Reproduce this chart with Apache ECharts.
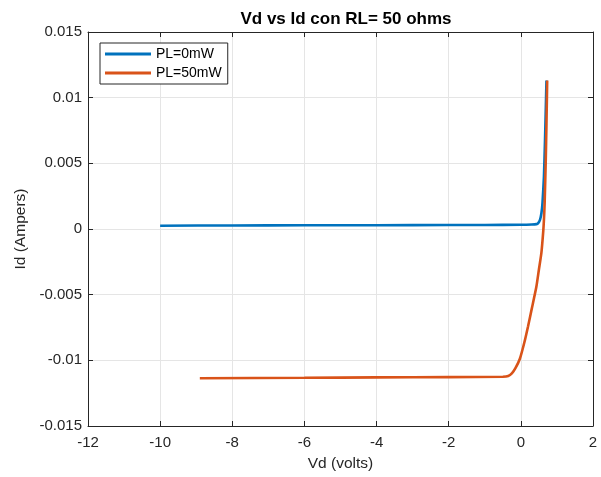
<!DOCTYPE html>
<html>
<head>
<meta charset="utf-8">
<script src="https://cdn.jsdelivr.net/npm/echarts@6/dist/echarts.min.js"></script>
<style>html,body{margin:0;padding:0;background:#fff;}#c{width:601px;height:477px;}</style>
</head>
<body>
<div id="c"></div>
<script>
var titleText = "Vd vs Id con RL= 50 ohms";
var xName = "Vd (volts)";
var yName = "Id (Ampers)";
var seriesNames = ["PL=0mW", "PL=50mW"];

var blueX = [-10, -8, -6, -4, -2, -1, 0, 0.3, 0.43, 0.48, 0.53, 0.57, 0.6, 0.64, 0.67, 0.69, 0.71];
var blueY = [0.00025, 0.00027, 0.00028, 0.00029, 0.0003, 0.00031, 0.00032, 0.00034, 0.00037, 0.00045, 0.0007, 0.0012, 0.002, 0.004, 0.0068, 0.009, 0.0113];

var orangeX = [-8.9, -6, -4, -2, -0.5, -0.35, -0.25, -0.15, -0.03, 0.1, 0.2, 0.3, 0.43, 0.5, 0.57, 0.62, 0.64, 0.66, 0.69, 0.71, 0.73];
var orangeY = [-0.01136, -0.01133, -0.0113, -0.01128, -0.01125, -0.0112, -0.0110, -0.0106, -0.0099, -0.0086, -0.0074, -0.0061, -0.0044, -0.0031, -0.0018, -0.0002, 0.0007, 0.002, 0.0052, 0.008, 0.0113];

function pairs(xs, ys){ return xs.map(function(x,i){ return [x, ys[i]]; }); }

var font = "'Liberation Sans', Arial, Helvetica, sans-serif";
var axisColor = "#262626";
var gridColor = "#e5e5e5";
function fmt(v){ return String(parseFloat(v.toFixed(4))); }

var chart = echarts.init(document.getElementById('c'));
chart.setOption({
  animation: false,
  backgroundColor: '#fff',
  title: { text: titleText, left: 341, textAlign: 'center', top: 6,
    textStyle: { fontFamily: font, fontSize: 17, fontWeight: 'bold', color: '#000' } },
  legend: {
    left: 100, top: 43, orient: 'vertical',
    data: seriesNames,
    icon: 'rect', itemWidth: 46, itemHeight: 3, itemGap: 5,
    padding: [4, 6, 4, 5],
    borderColor: axisColor, borderWidth: 1, backgroundColor: '#fff',
    textStyle: { fontFamily: font, fontSize: 14, color: '#000' }
  },
  grid: { left: 88, right: 8, top: 32, bottom: 50, show: false },
  xAxis: [{
    type: 'value', min: -12, max: 2, interval: 2, position: 'bottom',
    name: xName, nameLocation: 'middle', nameGap: 30,
    nameTextStyle: { fontFamily: font, fontSize: 15.5, color: axisColor },
    axisLine: { show: true, onZero: false, lineStyle: { color: axisColor, width: 1 } },
    axisTick: { show: true, inside: true, length: 5, lineStyle: { color: axisColor } },
    axisLabel: { fontFamily: font, fontSize: 15, color: axisColor, margin: 9, formatter: fmt },
    splitLine: { show: true, lineStyle: { color: gridColor, width: 1 } }
  }, {
    type: 'value', min: -12, max: 2, interval: 2, position: 'top',
    axisLine: { show: true, onZero: false, lineStyle: { color: axisColor, width: 1 } },
    axisTick: { show: true, inside: true, length: 5, lineStyle: { color: axisColor } },
    axisLabel: { show: false }, splitLine: { show: false }
  }],
  yAxis: [{
    type: 'value', min: -0.015, max: 0.015, interval: 0.005, position: 'left',
    name: yName, nameLocation: 'middle', nameGap: 55,
    nameTextStyle: { fontFamily: font, fontSize: 15.5, color: axisColor },
    axisLine: { show: true, onZero: false, lineStyle: { color: axisColor, width: 1 } },
    axisTick: { show: true, inside: true, length: 5, lineStyle: { color: axisColor } },
    axisLabel: { fontFamily: font, fontSize: 15, color: axisColor, margin: 6, formatter: fmt },
    splitLine: { show: true, lineStyle: { color: gridColor, width: 1 } }
  }, {
    type: 'value', min: -0.015, max: 0.015, interval: 0.005, position: 'right',
    axisLine: { show: true, onZero: false, lineStyle: { color: axisColor, width: 1 } },
    axisTick: { show: true, inside: true, length: 5, lineStyle: { color: axisColor } },
    axisLabel: { show: false }, splitLine: { show: false }
  }],
  series: [{
    name: seriesNames[0], type: 'line', xAxisIndex: 0, yAxisIndex: 0,
    data: pairs(blueX, blueY), showSymbol: false, symbol: 'none', smooth: 0.2,
    color: '#0072BD', lineStyle: { color: '#0072BD', width: 2.6 }
  }, {
    name: seriesNames[1], type: 'line', xAxisIndex: 0, yAxisIndex: 0,
    data: pairs(orangeX, orangeY), showSymbol: false, symbol: 'none', smooth: 0.2,
    color: '#D95319', lineStyle: { color: '#D95319', width: 2.6 }
  }]
});
</script>
</body>
</html>
